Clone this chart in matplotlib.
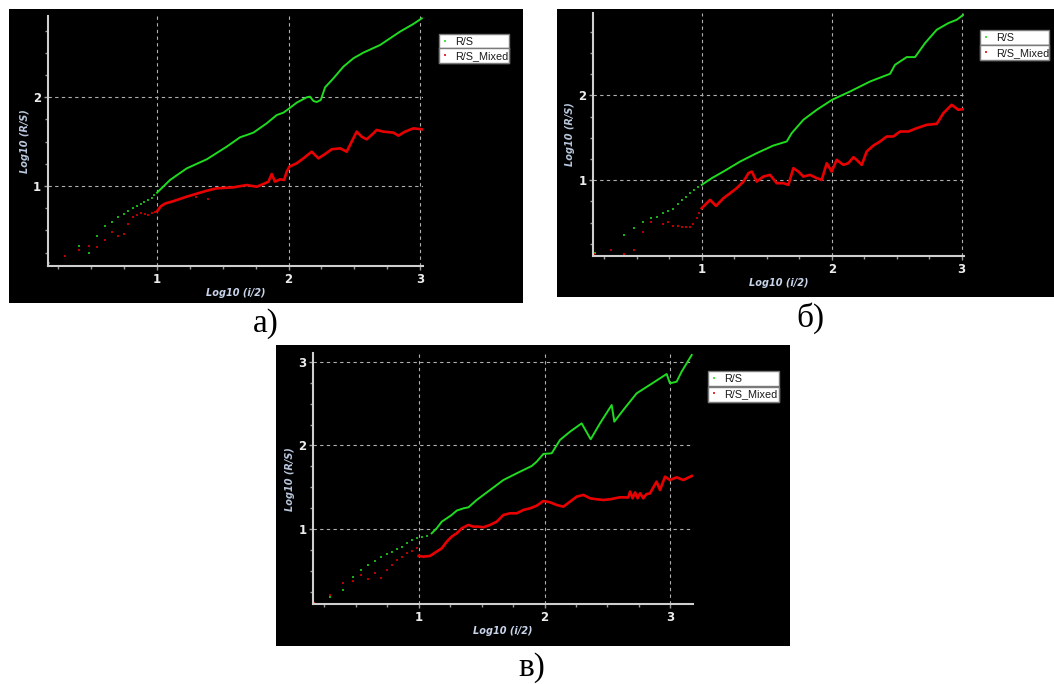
import matplotlib
matplotlib.use("Agg")
import matplotlib.pyplot as plt
from matplotlib.ticker import MultipleLocator

# picture size in pixels, saved at dpi 100
W = 1054
H = 684

# values (x = Log10 (i/2), y = Log10 (R/S))
# panel a)
a_rs_dots_x = [0.176, 0.407, 0.483, 0.546, 0.607, 0.655, 0.700, 0.749, 0.779, 0.817, 0.848, 0.881, 0.904, 0.934, 0.958, 0.980]
a_rs_dots_y = [0.13, 0.327, 0.248, 0.440, 0.545, 0.598, 0.647, 0.680, 0.714, 0.748, 0.771, 0.793, 0.823, 0.838, 0.865, 0.895]
a_rs_line_x = [1.0, 1.099, 1.226, 1.378, 1.53, 1.631, 1.682, 1.733, 1.834, 1.91, 1.961, 2.006, 2.062, 2.138, 2.163,
               2.189, 2.214, 2.245, 2.278, 2.341, 2.417, 2.493, 2.569, 2.696, 2.848, 2.949, 3.013]
a_rs_line_y = [0.925, 1.068, 1.199, 1.301, 1.444, 1.549, 1.575, 1.602, 1.707, 1.80, 1.827, 1.876, 1.94, 2.0, 2.008,
               1.959, 1.947, 1.97, 2.113, 2.214, 2.346, 2.44, 2.504, 2.59, 2.741, 2.827, 2.891]
a_mixed_dots_x = [0.176, 0.303, 0.407, 0.483, 0.546, 0.607, 0.655, 0.700, 0.749, 0.779, 0.817, 0.848, 0.881, 0.906,
                  0.934, 0.959, 0.982, 1.30, 1.39]
a_mixed_dots_y = [0.13, 0.21, 0.282, 0.327, 0.316, 0.395, 0.485, 0.440, 0.462, 0.568, 0.647, 0.669, 0.692, 0.680,
                  0.669, 0.692, 0.703, 0.88, 0.85]
a_mixed_line_x = [1.0, 1.028, 1.066, 1.12, 1.226, 1.378, 1.454, 1.58, 1.682, 1.758, 1.809, 1.847, 1.872, 1.897, 1.935,
                  1.966, 1.986, 2.006, 2.062, 2.113, 2.176, 2.227, 2.278, 2.328, 2.392, 2.442, 2.48, 2.518, 2.556,
                  2.594, 2.645, 2.67, 2.721, 2.797, 2.835, 2.886, 2.949, 3.013]
a_mixed_line_y = [0.714, 0.771, 0.805, 0.827, 0.88, 0.947, 0.974, 0.985, 1.011, 0.992, 1.023, 1.049, 1.135, 1.049,
                  1.075, 1.068, 1.162, 1.218, 1.256, 1.312, 1.387, 1.312, 1.361, 1.414, 1.425, 1.387, 1.5, 1.613,
                  1.556, 1.526, 1.594, 1.632, 1.613, 1.602, 1.568, 1.613, 1.65, 1.639]

# panel б)
b_rs_dots_x = [0.176, 0.403, 0.479, 0.546, 0.608, 0.654, 0.700, 0.744, 0.782, 0.815, 0.846, 0.879, 0.910, 0.944, 0.974]
b_rs_dots_y = [0.14, 0.35, 0.441, 0.512, 0.551, 0.571, 0.618, 0.642, 0.661, 0.72, 0.768, 0.807, 0.846, 0.886, 0.925]
b_rs_line_x = [1.0, 1.077, 1.167, 1.295, 1.423, 1.551, 1.654, 1.692, 1.782, 1.885, 2.003, 2.141, 2.295, 2.449, 2.487,
               2.577, 2.641, 2.718, 2.808, 2.897, 2.962, 3.013]
b_rs_line_y = [0.945, 1.024, 1.102, 1.22, 1.319, 1.409, 1.457, 1.555, 1.713, 1.831, 1.949, 2.047, 2.165, 2.256, 2.362,
               2.453, 2.453, 2.618, 2.776, 2.854, 2.894, 2.953]
b_mixed_dots_x = [0.174, 0.30, 0.403, 0.479, 0.546, 0.608, 0.700, 0.744, 0.782, 0.815, 0.846, 0.879, 0.910, 0.936,
                  0.962, 0.979]
b_mixed_dots_y = [0.13, 0.177, 0.13, 0.177, 0.394, 0.512, 0.48, 0.512, 0.461, 0.461, 0.453, 0.453, 0.453, 0.48,
                  0.551, 0.61]
b_mixed_line_x = [1.0, 1.038, 1.064, 1.11, 1.167, 1.218, 1.269, 1.321, 1.359, 1.385, 1.423, 1.474, 1.526, 1.577,
                  1.628, 1.667, 1.705, 1.744, 1.782, 1.833, 1.885, 1.923, 1.962, 2.0, 2.038, 2.09, 2.128, 2.167,
                  2.192, 2.231, 2.269, 2.321, 2.372, 2.423, 2.474, 2.526, 2.59, 2.654, 2.731, 2.808, 2.859, 2.923,
                  2.974, 3.013]
b_mixed_line_y = [0.669, 0.728, 0.768, 0.697, 0.787, 0.846, 0.906, 0.984, 1.083, 1.102, 0.984, 1.043, 1.063, 0.965,
                  0.965, 0.945, 1.142, 1.102, 1.043, 1.063, 1.024, 1.004, 1.201, 1.102, 1.24, 1.181, 1.201, 1.272,
                  1.24, 1.181, 1.339, 1.409, 1.457, 1.516, 1.516, 1.575, 1.575, 1.614, 1.654, 1.665, 1.791, 1.89,
                  1.831, 1.839]

# panel в)
c_rs_dots_x = [0.171, 0.295, 0.396, 0.475, 0.542, 0.600, 0.653, 0.701, 0.746, 0.785, 0.825, 0.865, 0.905, 0.944,
               0.984, 1.024, 1.064]
c_rs_dots_y = [0.125, 0.197, 0.276, 0.427, 0.515, 0.575, 0.626, 0.674, 0.706, 0.734, 0.761, 0.793, 0.833, 0.873,
               0.893, 0.913, 0.92]
c_rs_line_x = [1.103, 1.143, 1.183, 1.223, 1.262, 1.302, 1.355, 1.395, 1.461, 1.567, 1.673, 1.779, 1.898, 1.938,
               1.991, 2.057, 2.123, 2.203, 2.295, 2.367, 2.441, 2.534, 2.555, 2.626, 2.732, 2.865, 2.971, 2.997,
               3.05, 3.09, 3.17]
c_rs_line_y = [0.952, 1.012, 1.091, 1.131, 1.171, 1.223, 1.25, 1.262, 1.35, 1.469, 1.588, 1.668, 1.755, 1.807,
               1.899, 1.907, 2.066, 2.165, 2.264, 2.074, 2.264, 2.483, 2.284, 2.423, 2.622, 2.75, 2.853, 2.742,
               2.761, 2.881, 3.08]
c_mixed_dots_x = [0.171, 0.295, 0.396, 0.475, 0.542, 0.600, 0.653, 0.701, 0.746, 0.785, 0.825, 0.865, 0.905, 0.944,
                  0.984]
c_mixed_dots_y = [0.125, 0.217, 0.364, 0.388, 0.455, 0.404, 0.475, 0.416, 0.515, 0.575, 0.634, 0.674, 0.714, 0.746,
                  0.773]
c_mixed_line_x = [1.0, 1.037, 1.09, 1.143, 1.183, 1.223, 1.262, 1.302, 1.342, 1.395, 1.434, 1.474, 1.514, 1.567,
                  1.62, 1.673, 1.726, 1.779, 1.832, 1.885, 1.938, 1.991, 2.044, 2.097, 2.15, 2.203, 2.256, 2.309,
                  2.362, 2.415, 2.468, 2.521, 2.60, 2.666, 2.68, 2.70, 2.72, 2.74, 2.76, 2.785, 2.81, 2.838, 2.891,
                  2.918, 2.958, 2.997, 3.05, 3.103, 3.17]
c_mixed_line_y = [0.682, 0.674, 0.682, 0.734, 0.773, 0.853, 0.913, 0.952, 1.012, 1.052, 1.032, 1.032, 1.024, 1.052,
                  1.091, 1.171, 1.191, 1.191, 1.231, 1.25, 1.282, 1.338, 1.322, 1.29, 1.27, 1.33, 1.39, 1.41,
                  1.37, 1.358, 1.35, 1.358, 1.382, 1.38, 1.45, 1.37, 1.44, 1.37, 1.43, 1.37, 1.42, 1.429, 1.569,
                  1.469, 1.628, 1.588, 1.62, 1.588, 1.636]

series_labels = ["R/S", "R/S_Mixed"]
panel_letters = ["а)", "б)", "в)"]

green = "#1fdc1f"
red = "#e80000"


def box(x0, y0, x1, y1):
    # pixel box (top-left origin) -> figure fraction
    return [x0 / W, 1 - y1 / H, (x1 - x0) / W, (y1 - y0) / H]


def legend_row(ax, handle, label, x0, y0, x1, y1):
    # one white boxed row of the legend, like the screenshot
    leg = ax.legend([handle], [label], loc="upper left", mode="expand",
                    bbox_to_anchor=(x0 / W, 1 - y1 / H, (x1 - x0) / W, (y1 - y0) / H),
                    bbox_transform=fig.transFigure, borderaxespad=0, borderpad=0.25,
                    handlelength=0.6, handletextpad=0.6, numpoints=1, fancybox=False,
                    framealpha=1, edgecolor="#7a7a7a", facecolor="white",
                    prop={"family": "Liberation Sans", "size": 7.8})
    leg.get_frame().set_linewidth(1.0)
    for t in leg.get_texts():
        t.set_color("#1a1a1a")
    ax.add_artist(leg)


def draw_panel(panel_px, plot_px, xlim, ylim, yticks, legend_px, letter, letter_xy, rs, mixed):
    # black screenshot background
    bg = fig.add_axes(box(*panel_px))
    bg.set_facecolor("black")
    bg.set_xticks([])
    bg.set_yticks([])
    for s in bg.spines.values():
        s.set_visible(False)

    ax = fig.add_axes(box(*plot_px))
    ax.set_facecolor("none")
    h_rs, = ax.plot(rs[0], rs[1], ls="none", marker="s", ms=2, mew=0, color=green, alpha=0.8)
    ax.plot(rs[2], rs[3], color=green, lw=1.4, solid_joinstyle="round")
    h_mx, = ax.plot(mixed[0], mixed[1], ls="none", marker="s", ms=2, mew=0, color=red, alpha=0.8)
    ax.plot(mixed[2], mixed[3], color=red, lw=1.9, solid_joinstyle="round")

    ax.set_xlim(*xlim)
    ax.set_ylim(*ylim)
    ax.set_xticks([1, 2, 3])
    ax.set_yticks(yticks)
    ax.xaxis.set_minor_locator(MultipleLocator(0.25))
    ax.yaxis.set_minor_locator(MultipleLocator(0.25))
    ax.tick_params(which="both", direction="out", color="#9a9a9a", labelcolor="#ececec", labelsize=8.5, width=1)
    ax.tick_params(which="major", length=3, pad=2)
    ax.tick_params(which="minor", length=2)
    for lbl in ax.get_xticklabels() + ax.get_yticklabels():
        lbl.set_fontweight("bold")

    ax.grid(True, which="major", color="#b0b0b0", lw=0.8, ls=(0, (3, 3)))
    for side in ["top", "right"]:
        ax.spines[side].set_visible(False)
    for side in ["left", "bottom"]:
        ax.spines[side].set_color("#cfcfcf")
        ax.spines[side].set_linewidth(1.5)

    w_px = plot_px[2] - plot_px[0]
    h_px = plot_px[3] - plot_px[1]
    ax.set_xlabel("Log10 (i/2)", fontsize=7, style="italic", fontweight="bold", color="#c8d4ea")
    ax.set_ylabel("Log10 (R/S)", fontsize=7, style="italic", fontweight="bold", color="#b8c6dc")
    ax.xaxis.label.set_va("center")
    ax.yaxis.label.set_va("center")
    ax.xaxis.set_label_coords(0.5, -27 / h_px)
    ax.yaxis.set_label_coords(-23 / w_px, 0.5)

    # legend: two boxed rows stacked
    lx0, ly0, lx1, ly1 = legend_px
    ymid = (ly0 + ly1) / 2
    legend_row(ax, h_rs, series_labels[0], lx0, ly0, lx1, ymid)
    legend_row(ax, h_mx, series_labels[1], lx0, ymid, lx1, ly1)

    fig.text(letter_xy[0] / W, 1 - letter_xy[1] / H, letter, fontsize=24, family="Liberation Serif",
             ha="center", va="center", color="black")


fig = plt.figure(figsize=(W / 100, H / 100), dpi=100)
fig.patch.set_facecolor("white")

draw_panel((9, 9, 523, 303), (48, 16, 422.7, 266), (0.171, 3.02), (0.098, 2.917), [1, 2],
           (439, 34, 509, 62), panel_letters[0], (266, 323.5),
           (a_rs_dots_x, a_rs_dots_y, a_rs_line_x, a_rs_line_y),
           (a_mixed_dots_x, a_mixed_dots_y, a_mixed_line_x, a_mixed_line_y))

draw_panel((557, 9, 1054, 297), (593.3, 13.3, 964.3, 255.7), (0.166, 3.02), (0.109, 2.97), [1, 2],
           (980, 30, 1049, 60), panel_letters[1], (810, 318),
           (b_rs_dots_x, b_rs_dots_y, b_rs_line_x, b_rs_line_y),
           (b_mixed_dots_x, b_mixed_dots_y, b_mixed_line_x, b_mixed_line_y))

draw_panel((276, 345, 790, 646), (313.3, 353.3, 692.7, 604.3), (0.162, 3.178), (0.105, 3.10), [1, 2, 3],
           (708, 371, 779, 402), panel_letters[2], (532, 668),
           (c_rs_dots_x, c_rs_dots_y, c_rs_line_x, c_rs_line_y),
           (c_mixed_dots_x, c_mixed_dots_y, c_mixed_line_x, c_mixed_line_y))

fig.savefig("out.png", dpi=100, facecolor="white")
plt.close(fig)
